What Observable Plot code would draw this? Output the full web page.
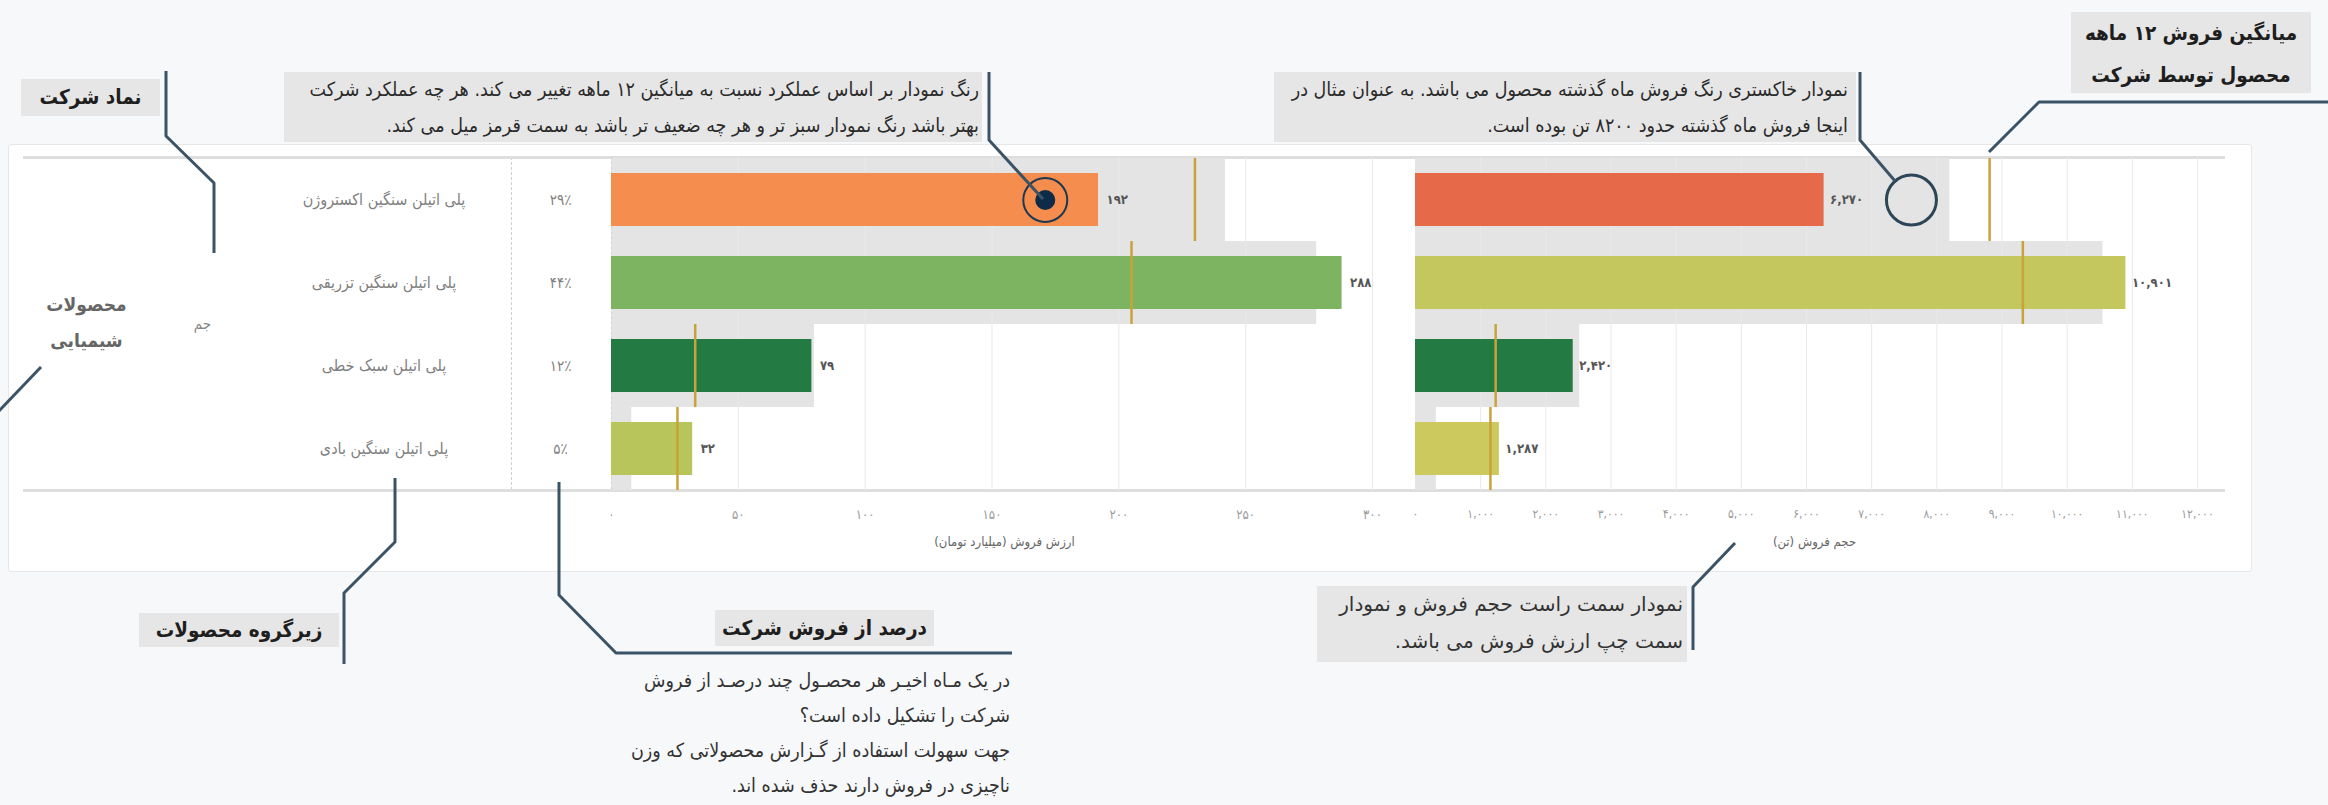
<!DOCTYPE html>
<html><head><meta charset="utf-8">
<script src="https://cdn.jsdelivr.net/npm/d3@7"></script>
<script src="https://cdn.jsdelivr.net/npm/@observablehq/plot@0.6"></script>
<style>
html,body{margin:0;padding:0;}
body{background:#f7f8fa;width:2328px;height:805px;overflow:hidden;position:relative;font-family:"DejaVu Sans Condensed","DejaVu Sans",sans-serif;}
#panel{position:absolute;left:8px;top:144px;width:2244px;height:428px;background:#fff;border:1px solid #e7e7e7;border-radius:3px;box-sizing:border-box;}
.col{position:absolute;top:144px;}
.col svg{display:block;}
.box{position:absolute;background:#e6e6e6;direction:rtl;color:#2b2b2b;box-sizing:border-box;white-space:nowrap;}
.bold{font-weight:bold;font-size:20.5px;text-align:center;color:#1e1e1e;}
.note{font-size:19.5px;text-align:right;line-height:36px;}
#overlay{position:absolute;left:0;top:0;pointer-events:none;}
</style></head>
<body>
<div id="panel"></div>
<div id="cGroup" class="col" style="left:24px"></div>
<div id="cSymbol" class="col" style="left:148px"></div>
<div id="cProduct" class="col" style="left:256px"></div>
<div id="cShare" class="col" style="left:511px"></div>
<div id="cValue" class="col" style="left:609px"></div>
<div id="cVolume" class="col" style="left:1415px"></div>

<div class="box bold" style="left:21px;top:79px;width:139px;height:37px;line-height:37px;">نماد شرکت</div>
<div class="box note" style="left:284px;top:72px;width:698px;height:70px;padding-right:3px;">رنگ نمودار بر اساس عملکرد نسبت به میانگین ۱۲ ماهه تغییر می کند. هر چه عملکرد شرکت<br>بهتر باشد رنگ نمودار سبز تر و هر چه ضعیف تر باشد به سمت قرمز میل می کند.</div>
<div class="box note" style="left:1274px;top:72px;width:582px;height:70px;padding-right:8px;">نمودار خاکستری رنگ فروش ماه گذشته محصول می باشد. به عنوان مثال در<br>اینجا فروش ماه گذشته حدود ۸۲۰۰ تن بوده است.</div>
<div class="box bold" style="left:2071px;top:12px;width:240px;height:81px;line-height:42px;">میانگین فروش ۱۲ ماهه<br>محصول توسط شرکت</div>
<div class="box bold" style="left:139px;top:613px;width:200px;height:34px;line-height:34px;">زیرگروه محصولات</div>
<div class="box bold" style="left:715px;top:610px;width:219px;height:36px;line-height:36px;">درصد از فروش شرکت</div>
<div class="box note" style="background:none;left:560px;top:663px;width:450px;line-height:35px;font-size:19.5px;color:#333;">در یک مـاه اخیـر هر محصـول چند درصـد از فروش<br>شرکت را تشکیل داده است؟<br>جهت سهولت استفاده از گـزارش محصولاتی که وزن<br>ناچیزی در فروش دارند حذف شده اند.</div>
<div class="box note" style="left:1317px;top:586px;width:370px;height:76px;padding-right:4px;line-height:37px;font-family:'DejaVu Sans',sans-serif;font-size:20px;color:#333;">نمودار سمت راست حجم فروش و نمودار<br>سمت چپ ارزش فروش می باشد.</div>

<svg id="overlay" width="2328" height="805" viewBox="0 0 2328 805">
<g fill="none" stroke="#3b5366" stroke-width="3" stroke-linejoin="round">
<polyline points="166,71 166,136 214,183 214,253"/>
<polyline points="989,72 989,140 1043,199"/>
<polyline points="1860,72 1860,140 1895,181"/>
<polyline points="2330,102 2039,102 1989,152"/>
<polyline points="395,478 395,542 344,593 344,664"/>
<polyline points="559,482 559,595 616,653 1012,653"/>
<polyline points="1693,650 1693,587 1735,543"/>
<polyline points="41,367 -2,412"/>
</g>
</svg>

<script>
// ---- data ----
const groupLabel = "محصولات\nشیمیایی";
const symbolLabel = "جم";
const products = ["پلی اتیلن سنگین اکستروژن", "پلی اتیلن سنگین تزریقی", "پلی اتیلن سبک خطی", "پلی اتیلن سنگین بادی"];
const shares = [29, 44, 12, 5];
const salesValue = [192, 288, 79, 32];
const prevValue = [242, 278, 80, 8];
const avgValue = [230, 205, 33, 26];
const salesVolume = [6270, 10901, 2420, 1287];
const prevVolume = [8200, 10550, 2520, 320];
const avgVolume = [8810, 9320, 1230, 1150];
const valueTicks = [0, 50, 100, 150, 200, 250, 300];
const volumeTicks = [0, 1000, 2000, 3000, 4000, 5000, 6000, 7000, 8000, 9000, 10000, 11000, 12000];
const valueTitle = "ارزش فروش (میلیارد تومان)";
const volumeTitle = "حجم فروش (تن)";
const valueMarker = [{product: products[0], x: 171}];
const volumeMarker = [{product: products[0], x: 7610}];

// ---- helpers ----
const faDigits = "۰۱۲۳۴۵۶۷۸۹";
const fa = n => d3.format(",")(n).replace(/\d/g, d => faDigits[d]);
const rtl = s => "\u200F" + s + "\u200F";
const rows = products.map((p, i) => ({
  product: p, share: shares[i],
  value: salesValue[i], valuePrev: prevValue[i], valueAvg: avgValue[i],
  volume: salesVolume[i], volumePrev: prevVolume[i], volumeAvg: avgVolume[i]
}));
const colorScale = {type: "linear", domain: [0.7, 0.85, 1.1, 1.25, 1.4, 1.9],
  range: ["#e5664a", "#f7914f", "#d0ca60", "#b4c45a", "#7db562", "#247a43"], clamp: true};
const font = "'DejaVu Sans Condensed','DejaVu Sans',sans-serif";
const lineColor = "#dedede";
const gold = "#c9a23c";

function base(width, extra) {
  return Object.assign({
    width, height: 428, marginTop: 13, marginBottom: 82, marginLeft: 0, marginRight: 0,
    style: {fontFamily: font, background: "transparent", color: "#9a9a9a", overflow: "visible"},
    y: {type: "band", domain: products, padding: 0, axis: null}
  }, extra);
}
const frameTB = [
  Plot.frame({anchor: "top", stroke: lineColor, strokeWidth: 3}),
  Plot.frame({anchor: "bottom", stroke: lineColor, strokeWidth: 3})
];

document.getElementById("cGroup").append(Plot.plot(base(124, {marks: [
  ...frameTB,
  Plot.text([groupLabel], {frameAnchor: "middle", text: d => d, dy: -7, fontSize: 19, fontWeight: "bold", fill: "#666", lineHeight: 1.9})
]})));

document.getElementById("cSymbol").append(Plot.plot(base(108, {marks: [
  ...frameTB,
  Plot.text([symbolLabel], {frameAnchor: "middle", text: d => d, fontSize: 15, fill: "#888"})
]})));

document.getElementById("cProduct").append(Plot.plot(base(255, {marks: [
  ...frameTB,
  Plot.frame({anchor: "right", stroke: "#cfcfcf", strokeDasharray: "2,3"}),
  Plot.text(rows, {y: "product", frameAnchor: "middle", text: "product", fontSize: 16, fill: "#808080"})
]})));

document.getElementById("cShare").append(Plot.plot(base(98, {marks: [
  ...frameTB,
  Plot.text(rows, {y: "product", frameAnchor: "middle", text: d => fa(d.share) + "٪", fontSize: 15, fill: "#808080"})
]})));

document.getElementById("cValue").append(Plot.plot(base(806, {
  x: {domain: [0, 300], insetLeft: 2, insetRight: 43},
  color: colorScale,
  marks: [
    ...frameTB,
    Plot.barX(rows, {x: "valuePrev", y: "product", fill: "#e4e4e4"}),
    Plot.gridX(valueTicks.slice(1), {stroke: "#e9e9e9", strokeOpacity: 1}),
    Plot.ruleX([0], {stroke: "#cfcfcf", strokeDasharray: "2,3"}),
    Plot.barX(rows, {x: "value", y: "product", fill: d => d.value / d.valueAvg, insetTop: 15, insetBottom: 15}),
    Plot.tickX(rows, {x: "valueAvg", y: "product", stroke: gold, strokeWidth: 2.5}),
    Plot.text(rows, {x: "value", y: "product", text: d => fa(d.value), textAnchor: "start", dx: 8, fill: "#555", fontSize: 13, fontWeight: "bold"}),
    Plot.dot(valueMarker, {x: "x", y: "product", r: 22, stroke: "#1d3850", strokeWidth: 2, fill: "none"}),
    Plot.dot(valueMarker, {x: "x", y: "product", r: 10, fill: "#0e2c47"}),
    Plot.axisX(valueTicks, {tickSize: 0, tickPadding: 19, tickFormat: fa, fontSize: 13, label: null}),
    Plot.text([rtl(valueTitle)], {frameAnchor: "bottom", dy: 55, dx: -8, text: d => d, fill: "#666", fontSize: 13})
  ]
})));

document.getElementById("cVolume").append(Plot.plot(base(808, {
  x: {domain: [0, 12000], insetLeft: 0, insetRight: 26},
  color: colorScale,
  marks: [
    ...frameTB,
    Plot.barX(rows, {x: "volumePrev", y: "product", fill: "#e4e4e4"}),
    Plot.gridX(volumeTicks.slice(1), {stroke: "#e9e9e9", strokeOpacity: 1}),
    Plot.barX(rows, {x: "volume", y: "product", fill: d => d.volume / d.volumeAvg, insetTop: 15, insetBottom: 15}),
    Plot.tickX(rows, {x: "volumeAvg", y: "product", stroke: gold, strokeWidth: 2.5}),
    Plot.text(rows, {x: "volume", y: "product", text: d => fa(d.volume), textAnchor: "start", dx: 6, fill: "#555", fontSize: 13, fontWeight: "bold"}),
    Plot.dot(volumeMarker, {x: "x", y: "product", r: 25, stroke: "#2c4557", strokeWidth: 3, fill: "none"}),
    Plot.axisX(volumeTicks, {tickSize: 0, tickPadding: 19, tickFormat: fa, fontSize: 12, label: null}),
    Plot.text([rtl(volumeTitle)], {frameAnchor: "bottom", dy: 55, dx: -5, text: d => d, fill: "#666", fontSize: 13})
  ]
})));
</script>
</body></html>
